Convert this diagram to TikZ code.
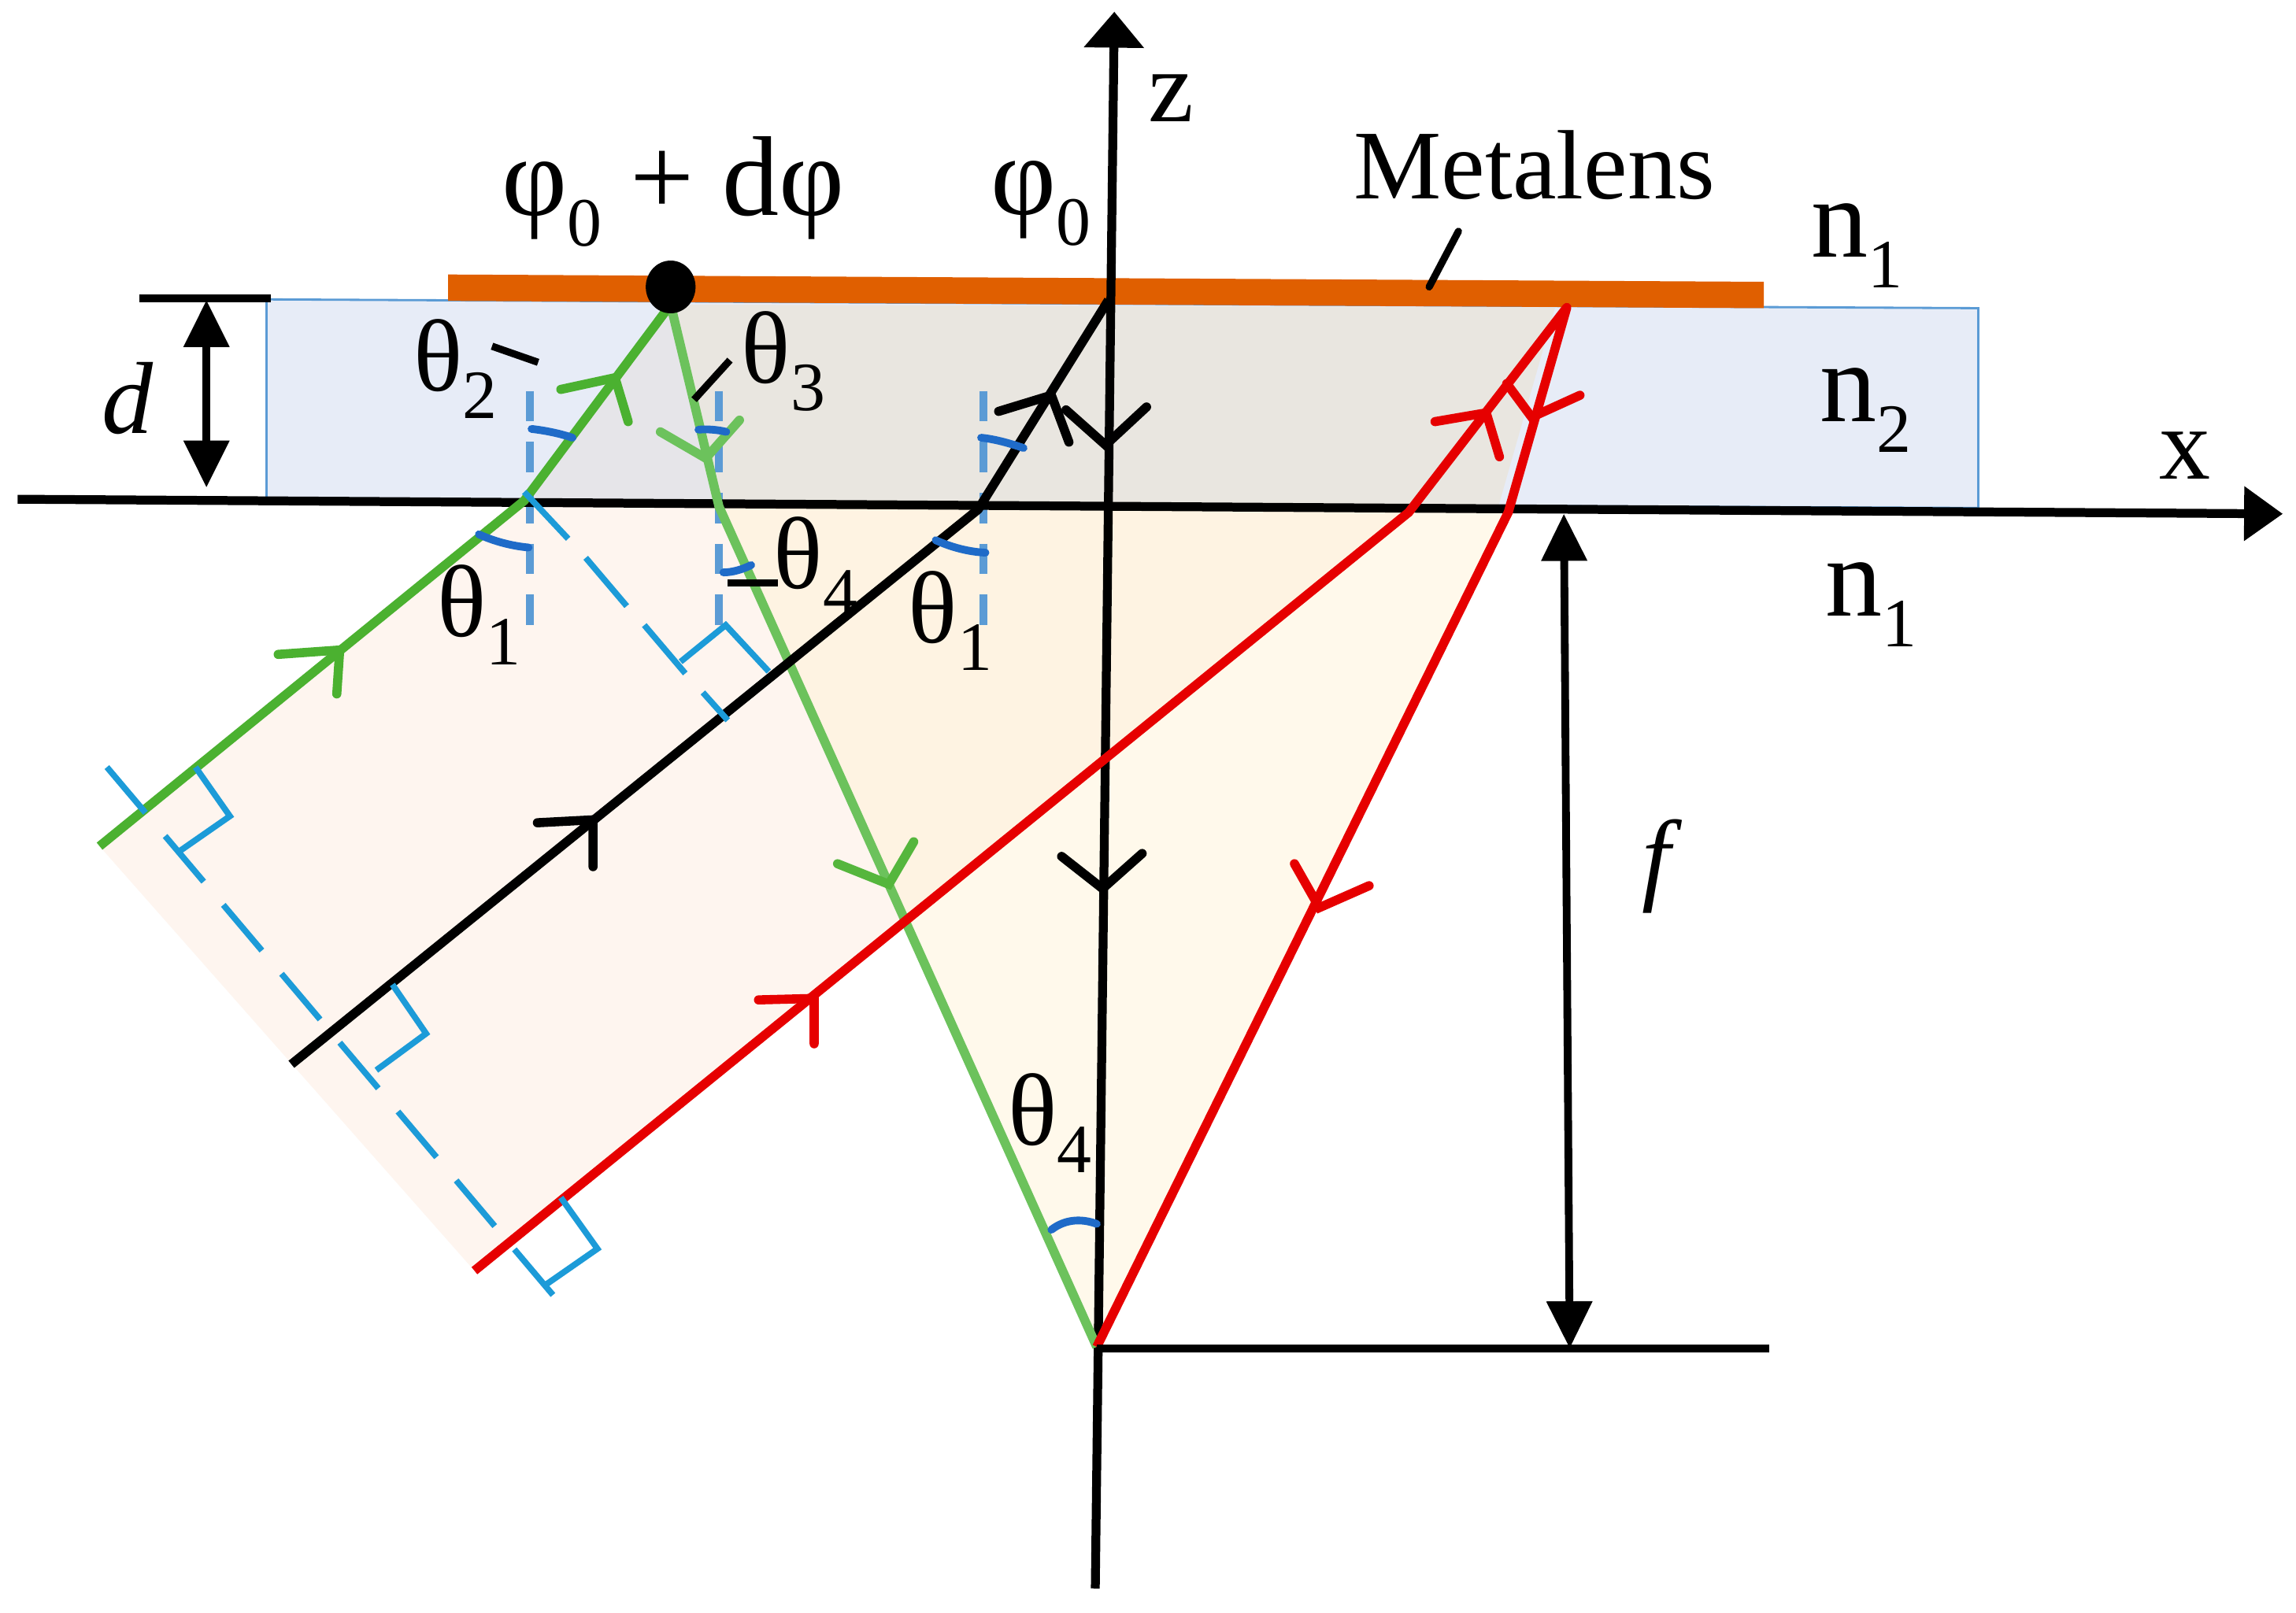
\documentclass[tikz,border=0pt]{standalone}
\usepackage{fontspec}
\setmainfont{Liberation Serif}
\usetikzlibrary{arrows.meta}
\definecolor{raygreen}{HTML}{4BB130}
\definecolor{lightgreen}{HTML}{6CC25C}
\definecolor{rayred}{HTML}{E60000}
\definecolor{barorange}{HTML}{E05F00}
\definecolor{cyanline}{HTML}{1C9BD8}
\definecolor{dashblue}{HTML}{5B9BD5}
\definecolor{arcblue}{HTML}{1F6BC8}
\definecolor{boxblue}{HTML}{E7ECF7}
\definecolor{boxgray}{HTML}{E9E6E0}
\definecolor{boxgrayb}{HTML}{E6E5E9}
\definecolor{pinkfill}{HTML}{FEF5EF}
\definecolor{creamfill}{HTML}{FEF3E2}
\definecolor{yellowfill}{HTML}{FFF9EB}
\newcommand{\sbs}[1]{\raisebox{-0.27em}{\fontsize{25}{25}\selectfont #1}}
\tikzset{
  x=0.0186cm, y=-0.0186cm,
  lbl/.style={inner sep=0pt, font=\fontsize{37}{37}\selectfont},
  lblbig/.style={inner sep=0pt, font=\fontsize{41}{41}\selectfont},
  axisline/.style={line width=3.2pt, black},
  thinaxis/.style={line width=2.8pt, black},
  greenray/.style={line width=3.3pt, raygreen, line join=round},
  lgreenray/.style={line width=3.3pt, lightgreen, line join=round},
  blackray/.style={line width=3.3pt, black, line join=round},
  redray/.style={line width=3.3pt, rayred, line join=round},
  chevron/.style={line width=3.3pt, line cap=round, line join=miter},
  perp/.style={line width=2.2pt, cyanline, line cap=butt},
  perpdash/.style={perp, dash pattern=on 21.6pt off 11pt},
  normaldash/.style={line width=2.8pt, dashblue, dash pattern=on 11pt off 7.4pt},
  anglearc/.style={line width=2.8pt, arcblue, line cap=round},
  leader/.style={line width=2.6pt, black},
  dblarrow/.style={line width=2.8pt, black, {Triangle[length=17pt,width=16pt]}-{Triangle[length=17pt,width=16pt]}},
}
\begin{document}
\begin{tikzpicture}
\useasboundingbox (0,0) rectangle (1568,1101.3);
\fill[white] (0,0) rectangle (1568,1101.3);
% ray points
\coordinate (gstart) at (68,578);
\coordinate (gin) at (358,342);
\coordinate (dotc) at (458,208);
\coordinate (gout) at (491,346);
\coordinate (focus) at (749,920);
\coordinate (kstart) at (199,727);
\coordinate (kin) at (668,348);
\coordinate (ktop) at (757,205);
\coordinate (rstart) at (324,868);
\coordinate (rin) at (962,350);
\coordinate (rtop) at (1070,210);
\coordinate (rout) at (1030,350);
\coordinate (gcross) at (615,628);
% fills
\fill[pinkfill] (gstart) -- (gin) -- (gout) -- (gcross) -- (rstart) -- cycle;
\fill[creamfill] (gout) -- (rin) -- (gcross) -- cycle;
\fill[yellowfill] (gcross) -- (rin) -- (rout) -- (focus) -- cycle;
\filldraw[fill=boxblue, draw=dashblue, line width=0.8pt] (182,204.5) -- (1351,210.5) -- (1351,347) -- (182,342) -- cycle;
\fill[boxgrayb] (dotc) -- (gin) -- (gout) -- cycle;
\fill[boxgray] (dotc) -- (1062,210) -- (1023,347) -- (gout) -- cycle;
% metalens
\fill[barorange] (306,187.5) -- (1204.5,192.5) -- (1204.5,210.5) -- (306,205.5) -- cycle;
% normals
\draw[normaldash] (362,267) -- (362,432);
\draw[normaldash] (491,267) -- (491,432);
\draw[normaldash] (671.5,267) -- (671.5,432);
% axes
\coordinate (xstart) at (12,341);
\coordinate (xend) at (1559,351);
\coordinate (zstart) at (748,1085);
\coordinate (zend) at (761,8);
\draw[axisline, -{Triangle[length=14pt,width=19pt]}] (xstart) -- (xend);
\draw[axisline, -{Triangle[length=13pt,width=21pt]}] (zstart) -- (zend);
% rays
\draw[greenray] (gstart) -- (gin) -- (dotc);
\draw[lgreenray] (dotc) -- (gout) -- (focus);
\draw[blackray] (kstart) -- (kin) -- (ktop);
\draw[redray] (rstart) -- (rin) -- (rtop) -- (rout) -- (focus);
% chevrons
\draw[chevron, raygreen] (190,447) -- (232,444) -- (230,474);
\draw[chevron, raygreen] (383,266) -- (420,258) -- (429,288);
\draw[chevron, lightgreen] (451,295) -- (482,313) -- (505,287);
\draw[chevron, raygreen!70!lightgreen] (572,590) -- (607,604) -- (624,575);
\draw[chevron, black] (367,562) -- (405,560) -- (405,592);
\draw[chevron, black] (682,281) -- (718,270) -- (730,302);
\draw[chevron, black] (728,280) -- (755,304) -- (783,278);
\draw[chevron, black] (725,585) -- (753,607) -- (780,583);
\draw[chevron, rayred] (518,683) -- (556,682) -- (556,713);
\draw[chevron, rayred] (980,288) -- (1015,282) -- (1024,312);
\draw[chevron, rayred] (1029,262) -- (1046,285) -- (1079,270);
\draw[chevron, rayred] (884,590) -- (901,620) -- (935,605);
% perpendicular dashed lines
\draw[perpdash] (73,524) -- (378,885);
\draw[perp] (358,336) -- (388,368);
\draw[perp] (400,381) -- (428,414);
\draw[perp] (440,427) -- (468,460);
\draw[perp] (480,473) -- (497,492);
% right-angle marks
\draw[perp] (133.5,524) -- (157,557.5) -- (122.5,581.5);
\draw[perp] (268,672.5) -- (291,706) -- (257,731);
\draw[perp] (383,818) -- (408,853) -- (373.5,877);
\draw[perp] (464.8,452) -- (495.6,427) -- (525,458.7);
% angle arcs
\draw[anglearc] (363,293) .. controls (372,294) and (382,296) .. (391,299);
\draw[anglearc] (327,365) .. controls (338,370) and (350,373) .. (361,374);
\draw[anglearc] (477,293.5) .. controls (483,293) and (490,293.5) .. (496,295);
\draw[anglearc] (494,391) .. controls (500,391) and (507,389) .. (513,386);
\draw[anglearc] (670,299) .. controls (680,300) and (690,303) .. (699,306);
\draw[anglearc] (639,369) .. controls (650,374) and (662,377) .. (673,377.5);
\draw[anglearc] (718,840) .. controls (727,833) and (738,832) .. (749,836);
% leader lines
\draw[leader] (336,236.5) -- (367.5,247.5);
\draw[leader] (474,273) -- (498.5,246);
\draw[leader] (497,398) -- (531,398);
\draw[leader, line cap=round] (996,158) -- (976,196);
% dimensions
\coordinate (dtop) at (141,205);
\coordinate (dbot) at (141,333);
\coordinate (dl) at (95,204);
\coordinate (dr) at (185,204);
\draw[thinaxis] (dl) -- (dr);
\draw[dblarrow] (dtop) -- (dbot);
\coordinate (ftop) at (1068,351);
\coordinate (fbot) at (1072,921);
\coordinate (fl) at (749,921);
\coordinate (fr) at (1208,921);
\draw[thinaxis] (fl) -- (fr);
\draw[dblarrow] (ftop) -- (fbot);
% focus dot
\fill[black] (458,196) ellipse [x radius=17, y radius=18];
% labels
\node[lbl] (lz) at (800,67) {z};
\node[lbl] (lx) at (1492,311) {x};
\node[inner sep=0pt, font=\fontsize{35.6}{36}\selectfont] (lmeta) at (1048,113) {Metalens};
\node[lblbig] (lphi) at (460,131) {φ\sbs{0} + dφ};
\node[lblbig] (lphi0) at (711,139) {φ\sbs{0}};
\node[lblbig] (lna) at (1268,168) {n\sbs{1}};
\node[lblbig] (lnb) at (1274,280) {n\sbs{2}};
\node[lblbig] (lnc) at (1278,413) {n\sbs{1}};
\node[lbl] (ld) at (87,272) {\itshape d};
\node[lbl] (lf) at (1131,592) {\itshape f};
\node[lbl] (tb) at (311,252) {θ\sbs{2}};
\node[lbl] (tc) at (535,247) {θ\sbs{3}};
\node[lbl] (td) at (557,387) {θ\sbs{4}};
\node[lbl] (ta) at (327,420) {θ\sbs{1}};
\node[lbl] (tf) at (649,424) {θ\sbs{1}};
\node[lbl] (te) at (717,767) {θ\sbs{4}};
\end{tikzpicture}
\end{document}
